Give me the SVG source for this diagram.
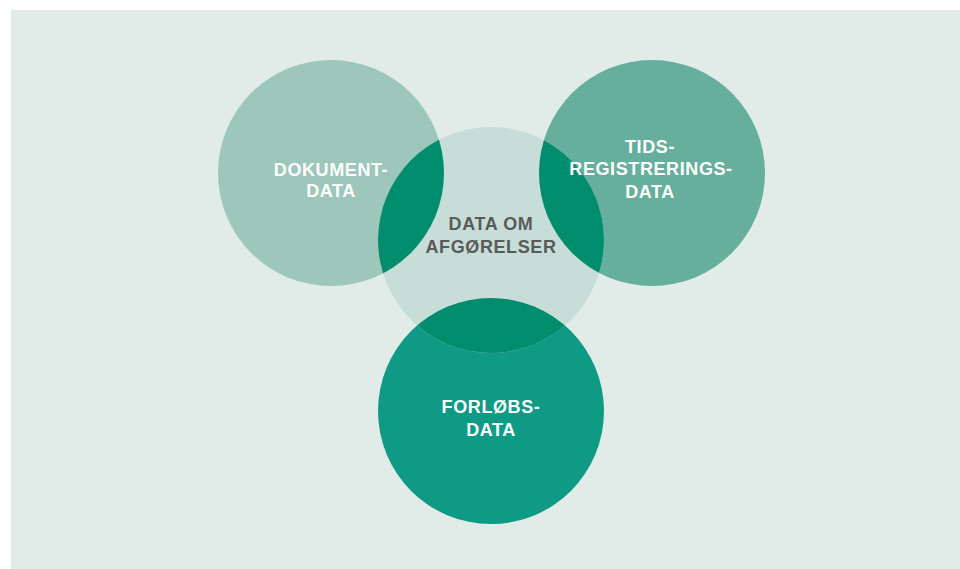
<svg xmlns="http://www.w3.org/2000/svg" width="960" height="569" viewBox="0 0 960 569">
<style>
.lbl{font-family:"Liberation Sans",Arial,sans-serif;font-weight:bold;font-size:18px;letter-spacing:0.6px;text-anchor:middle;fill:#ffffff}
.dark{fill:#5a5a5a}
.ov{fill:#008d6d}
</style>
<defs>
<clipPath id="cC"><circle cx="491" cy="240" r="113"/></clipPath>
</defs>
<rect width="960" height="569" fill="#ffffff"/>
<rect x="11" y="10" width="949" height="559" fill="#e1ece8"/>
<g id="node-dokument">
<circle cx="331" cy="173" r="113" fill="#9cc7ba"/>
</g>
<g id="node-tids">
<circle cx="652" cy="173" r="113" fill="#66af9c"/>
</g>
<g id="node-forloeb">
<circle cx="491" cy="411" r="113" fill="#0e9a84"/>
</g>
<g id="node-afgoerelser">
<circle cx="491" cy="240" r="113" fill="#c7ded8"/>
</g>
<g id="overlaps" clip-path="url(#cC)">
<circle class="ov" cx="331" cy="173" r="113"/>
<circle class="ov" cx="652" cy="173" r="113"/>
<circle class="ov" cx="491" cy="411" r="113"/>
</g>
<g id="labels">
<text class="lbl" x="331" y="176">DOKUMENT-</text>
<text class="lbl" x="331" y="197">DATA</text>
<text class="lbl" x="650" y="153">TIDS-</text>
<text class="lbl" x="651" y="175">REGISTRERINGS-</text>
<text class="lbl" x="650" y="198">DATA</text>
<text class="lbl dark" x="491" y="230">DATA OM</text>
<text class="lbl dark" x="491" y="253">AFGØRELSER</text>
<text class="lbl" x="491" y="413">FORLØBS-</text>
<text class="lbl" x="491" y="436">DATA</text>
</g>
<g id="connectors"/>
</svg>
